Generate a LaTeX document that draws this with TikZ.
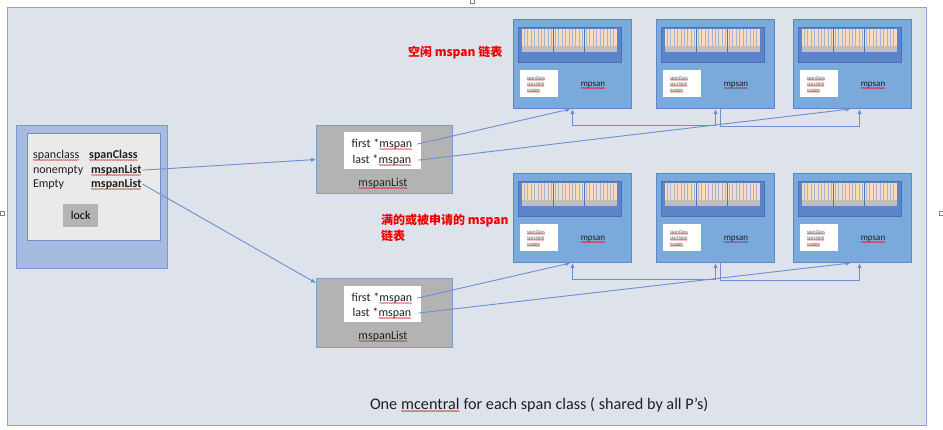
\documentclass[tikz,border=0pt]{standalone}
\usepackage{fontspec}
\setmainfont{Carlito}
\newfontfamily\cjk{Noto Sans CJK SC}
\usetikzlibrary{arrows.meta,decorations.pathmorphing,calc}
\definecolor{panelbg}{HTML}{DEE2EA}
\definecolor{panelbd}{HTML}{8EA3C8}
\definecolor{lboxc}{HTML}{A7BBE1}
\definecolor{lboxbd}{HTML}{7A98CF}
\definecolor{linnerc}{HTML}{EAEAEA}
\definecolor{linnerbd}{HTML}{6F8FCB}
\definecolor{lockc}{HTML}{B4B4B4}
\definecolor{listc}{HTML}{B3B3B3}
\definecolor{listbd}{HTML}{7F9BCB}
\definecolor{mspanc}{HTML}{79AADB}
\definecolor{mspanbd}{HTML}{6088C6}
\definecolor{stripc}{HTML}{5B84C9}
\definecolor{stripbd}{HTML}{4A70B5}
\definecolor{peach}{HTML}{F9DCBF}
\definecolor{stripeln}{HTML}{A3B4D4}
\definecolor{barc}{HTML}{BFBFBF}
\definecolor{connc}{HTML}{6D8FD1}
\definecolor{redtxt}{HTML}{F00000}
\tikzset{
  x=1pt, y=-1pt,
  squig/.style={draw=red!80!black, line width=0.45pt, decorate,
    decoration={snake, amplitude=0.45pt, segment length=2pt}},
  squigt/.style={draw=red!80!black, line width=0.3pt, decorate,
    decoration={snake, amplitude=0.25pt, segment length=1pt}},
  panelst/.style={draw=panelbd, fill=panelbg, line width=1pt, inner sep=0pt},
  lboxst/.style={draw=lboxbd, fill=lboxc, line width=1pt, inner sep=0pt, anchor=north west},
  linnerst/.style={draw=linnerbd, fill=linnerc, line width=1pt, inner sep=0pt, anchor=north west},
  lockst/.style={fill=lockc, inner sep=0pt, anchor=north west, minimum width=35pt, minimum height=23pt, font=\fontsize{12}{14}\selectfont},
  listst/.style={draw=listbd, fill=listc, line width=1pt, inner sep=0pt, anchor=north west, minimum width=136pt},
  inwhite/.style={fill=white, inner sep=0pt, anchor=north west, minimum width=77pt},
  mspanst/.style={draw=mspanbd, fill=mspanc, line width=1pt, inner sep=0pt, minimum width=118pt, minimum height=89pt},
  txt/.style={inner sep=0pt, outer sep=0pt, font=\fontsize{12}{14}\selectfont, text=black!88},
  tinytxt/.style={inner sep=0pt, outer sep=0pt, font=\fontsize{4.5}{5}\selectfont, text=black!65},
  mlabel/.style={inner sep=0pt, outer sep=0pt, font=\fontsize{9}{10}\selectfont, text=black!88},
  redlbl/.style={inner sep=0pt, outer sep=0pt, font=\cjk\bfseries\fontsize{12}{14}\selectfont, text=redtxt, anchor=west},
  connln/.style={draw=connc, line width=0.9pt},
  tip/.tip={Latex[length=5pt,width=4.5pt]},
  handle/.style={draw=gray, fill=white, line width=0.4pt, minimum size=4pt, inner sep=0pt}
}
\newcommand{\sq}[1]{\tikz[baseline=(sqw.base)]{\node[inner sep=0pt,outer sep=0pt](sqw){#1};\draw[squig]([yshift=-2pt]sqw.base west)--([yshift=-2pt]sqw.base east);}}
\newcommand{\sqt}[1]{\tikz[baseline=(sqw.base)]{\node[inner sep=0pt,outer sep=0pt](sqw){#1};\draw[squigt]([yshift=-0.9pt]sqw.base west)--([yshift=-0.9pt]sqw.base east);}}
\newcommand{\mspanbox}[4]{%
  \node[mspanst, anchor=north west] (#1) at (#2,#3) {};
  \begin{scope}[shift={(#2,#3)}]
    \draw[fill=stripc, draw=stripbd, line width=0.6pt] (5,8) rectangle (108,43);
    \fill[peach] (9,10) rectangle (104,27);
    \foreach \k in {0,...,26} {\draw[stripeln, line width=0.6pt] ({11+3.45*\k},10) -- ({11+3.45*\k},27);}
    \fill[barc] (9,27) rectangle (104,33);
    \draw[stripbd, line width=0.8pt] (40,10) -- (40,33);
    \draw[stripbd, line width=0.8pt] (71,10) -- (71,33);
    \fill[white] (7,51) rectangle (45,78);
    \node[tinytxt, anchor=base west] at (14,60) {\sqt{spanClass}};
    \node[tinytxt, anchor=base west] at (14,66) {\sqt{startAddr}};
    \node[tinytxt, anchor=base west] at (14,72) {\sqt{npages}};
    \node[mlabel, anchor=base] at (80,67) {\sq{#4}};
  \end{scope}}
\begin{document}
\begin{tikzpicture}
\useasboundingbox (0,0) rectangle (943,429);
\fill[white] (0,0) rectangle (943,429);
\node[panelst, minimum width=919pt, minimum height=418pt, anchor=north west] (panel) at (7,7) {};
% selection handles
\node[handle] (h1) at (472,1) {};
\node[handle] (h2) at (2,213) {};
\node[handle] (h3) at (941,213) {};

% left mcentral box
\node[lboxst, minimum width=151pt, minimum height=143pt] (lbox) at (16,125) {};
\node[linnerst, minimum width=133pt, minimum height=107pt] (linner) at (27,133) {};
\node[lockst] (lock) at (63,204) {lock};
\node[txt, anchor=base west] (sc) at (33,158) {\sq{spanclass}};
\node[txt, anchor=base west, font=\bfseries\fontsize{12}{14}\selectfont] (scv) at (89,158) {\sq{spanClass}};
\node[txt, anchor=base west] (ne) at (33,173) {nonempty};
\node[txt, anchor=base west, font=\bfseries\fontsize{12}{14}\selectfont] (nel) at (91,173) {\sq{mspanList}};
\node[txt, anchor=base west] (em) at (33,187) {Empty};
\node[txt, anchor=base west, font=\bfseries\fontsize{12}{14}\selectfont] (el) at (91,187) {\sq{mspanList}};

% top mspanList
\node[listst, minimum height=68pt] (tlist) at (316,125) {};
\node[inwhite, minimum height=37pt] (tin) at (344,132) {};
\node[txt, anchor=base] (tf) at (382,147) {first *\sq{mspan}};
\node[txt, anchor=base] (tl) at (382,163) {last *\sq{mspan}};
\node[txt, anchor=base] (tlab) at (383,186) {\sq{mspanList}};

% bottom mspanList
\node[listst, minimum height=69pt] (blist) at (316,278) {};
\node[inwhite, minimum height=36pt] (bin) at (344,286) {};
\node[txt, anchor=base] (bf) at (382,301) {first *\sq{mspan}};
\node[txt, anchor=base] (bl) at (382,316) {last *\sq{mspan}};
\node[txt, anchor=base] (blab) at (383,339) {\sq{mspanList}};

% mspan boxes
\mspanbox{m11}{513}{19}{mpsan}
\mspanbox{m12}{656}{19}{mpsan}
\mspanbox{m13}{793}{19}{mpsan}
\mspanbox{m21}{513}{173}{mpsan}
\mspanbox{m22}{656}{173}{mpsan}
\mspanbox{m23}{793}{173}{mpsan}

% red labels
\node[redlbl] (lab1) at (408,53) {空闲 mspan 链表};
\node[redlbl] (lab2) at (381,221) {满的或被申请的 mspan};
\node[redlbl] (lab3) at (381,236) {链表};

% bottom caption
\node[txt, anchor=base west, font=\fontsize{16.2}{19}\selectfont] (cap) at (370,409) {One \sq{mcentral} for each span class ( shared by all P’s)};

% connectors from mcentral
\draw[connln, -tip] ([xshift=1pt]nel.east) -- (tlist.west);
\draw[connln, -tip] ([xshift=1pt]el.east) -- ([yshift=-5pt]blist.north west);

% top list connectors
\draw[connln, -tip] ([xshift=5pt]tf.east) -- ([xshift=-2pt]m11.south);
\draw[connln, -tip] ([xshift=7pt]tl.east) -- ([xshift=-2pt]m13.south);
\draw[connln, tip-tip] (m11.south) -- ++(0,16) -| (m12.south);
\draw[connln, -tip] ([xshift=4.5pt]m12.south) -- ++(0,17) -| ([xshift=7pt]m13.south);

% bottom list connectors
\draw[connln, -tip] ([xshift=5pt]bf.east) -- ([xshift=-2pt]m21.south);
\draw[connln, -tip] ([xshift=7pt]bl.east) -- ([xshift=-2pt]m23.south);
\draw[connln, tip-tip] (m21.south) -- ++(0,16) -| (m22.south);
\draw[connln, -tip] ([xshift=4.5pt]m22.south) -- ++(0,17) -| ([xshift=7pt]m23.south);
\end{tikzpicture}
\end{document}
